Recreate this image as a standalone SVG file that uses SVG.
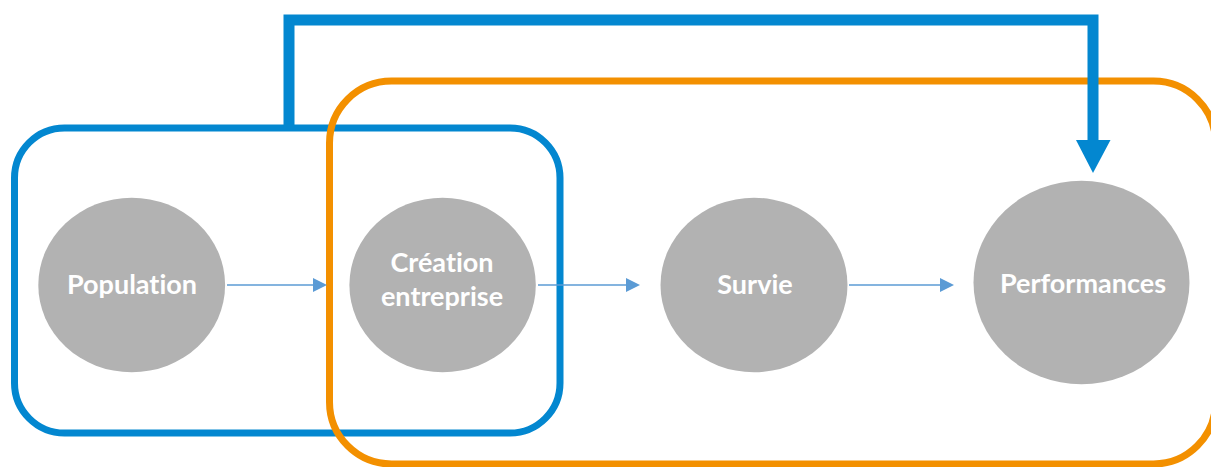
<svg xmlns="http://www.w3.org/2000/svg" width="1211" height="467" viewBox="0 0 1211 467">
  <style>
    .frame { fill: none; stroke-width: 7; }
    .blue { stroke: #0387D0; }
    .orange { stroke: #F39000; }
    .node { fill: #B2B2B2; }
    .label { font-family: Lato, "Liberation Sans", sans-serif; font-weight: bold; font-size: 27px; fill: #FFFFFF; text-anchor: middle; font-variant-ligatures: none; }
    .thin { stroke: #5B9BD5; stroke-width: 1.5; fill: none; }
  </style>
  <defs>
    <marker id="thinArrow" markerUnits="userSpaceOnUse" markerWidth="16" markerHeight="16" refX="0" refY="7" orient="auto" viewBox="0 0 16 14">
      <polygon points="0,0 14,7 0,14" fill="#5B9BD5"/>
    </marker>
  </defs>
  <rect width="1211" height="467" fill="#FFFFFF"/>

  <g id="group-blue">
    <rect class="frame blue" x="14.5" y="128" width="545.5" height="305" rx="50" ry="50"/>
  </g>
  <g id="group-orange">
    <rect class="frame orange" x="329.5" y="81" width="886" height="383" rx="62" ry="62"/>
  </g>

  <g id="connectors">
    <line class="thin" x1="227" y1="285" x2="313" y2="285" marker-end="url(#thinArrow)"/>
    <line class="thin" x1="538" y1="285" x2="626" y2="285" marker-end="url(#thinArrow)"/>
    <line class="thin" x1="849" y1="285" x2="940" y2="285" marker-end="url(#thinArrow)"/>
    <path d="M289,128 V20 H1093 V142" fill="none" stroke="#0387D0" stroke-width="11" stroke-linejoin="miter"/>
    <polygon points="1076,140 1110.5,140 1093,173" fill="#0387D0"/>
  </g>

  <g id="node-population">
    <ellipse class="node" cx="131.7" cy="285" rx="93.4" ry="87.3"/>
    <text class="label" x="132" y="294">Population</text>
  </g>
  <g id="node-creation">
    <ellipse class="node" cx="442.6" cy="285" rx="93.2" ry="87.3"/>
    <text class="label" x="442" y="272">Création</text>
    <text class="label" x="442" y="306">entreprise</text>
  </g>
  <g id="node-survie">
    <ellipse class="node" cx="754" cy="285" rx="93.5" ry="87.3"/>
    <text class="label" x="755" y="294">Survie</text>
  </g>
  <g id="node-performances">
    <ellipse class="node" cx="1081.5" cy="282.5" rx="108" ry="101.8"/>
    <text class="label" x="1083" y="293">Performances</text>
  </g>
</svg>
